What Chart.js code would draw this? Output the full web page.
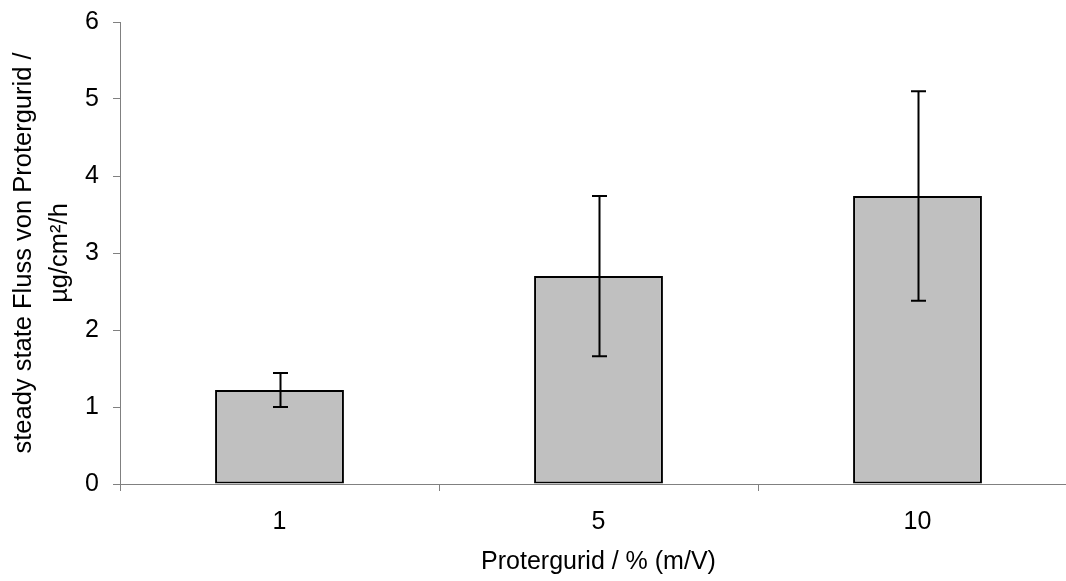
<!DOCTYPE html>
<html>
<head>
<meta charset="utf-8">
<script src="https://cdn.jsdelivr.net/npm/chart.js@4"></script>
<style>
  html, body { margin: 0; padding: 0; background: #fff; overflow: hidden; }
  #wrap { width: 1066px; height: 581px; overflow: hidden; }
  #box { width: 1080px; height: 581px; }
</style>
</head>
<body>
<div id="wrap"><div id="box"><canvas id="fluxChart"></canvas></div></div>
<script>
// Protergurid concentrations (% m/V) and steady state flux (µg/cm²/h)
const concentrations = ['1', '5', '10'];
const fluxMean = [1.22, 2.70, 3.74];
const fluxSd = [0.22, 1.04, 1.36];
const yTicks = [0, 1, 2, 3, 4, 5, 6];

const FONT = 'Liberation Sans, Arial, sans-serif';
const FONT_SIZE = 25;
const AXIS_GREY = '#808080';

// simple error bars with caps, drawn on top of the bars
const errorBars = {
    id: 'errorBars',
    afterDatasetsDraw(chart) {
        const ctx = chart.ctx;
        const y = chart.scales.y;
        const meta = chart.getDatasetMeta(0);
        ctx.save();
        ctx.strokeStyle = '#000';
        ctx.lineWidth = 2;
        meta.data.forEach((bar, i) => {
            const top = y.getPixelForValue(fluxMean[i] + fluxSd[i]);
            const bot = y.getPixelForValue(fluxMean[i] - fluxSd[i]);
            const x = Math.round(bar.x) + 0.5;
            const cap = 7.5;
            ctx.beginPath();
            ctx.moveTo(x, top);
            ctx.lineTo(x, bot);
            ctx.moveTo(x - cap, top);
            ctx.lineTo(x + cap, top);
            ctx.moveTo(x - cap, bot);
            ctx.lineTo(x + cap, bot);
            ctx.stroke();
        });
        ctx.restore();
    }
};

new Chart(document.getElementById('fluxChart'), {
    type: 'bar',
    data: {
        labels: concentrations,
        datasets: [{
            data: fluxMean,
            backgroundColor: '#C0C0C0',
            borderColor: '#000',
            borderWidth: 2,
            borderSkipped: false,
            categoryPercentage: 1,
            barPercentage: 0.404
        }]
    },
    options: {
        responsive: true,
        maintainAspectRatio: false,
        animation: false,
        layout: { padding: { top: 22, right: 3, left: 0, bottom: 0 } },
        plugins: {
            legend: { display: false },
            tooltip: { enabled: false }
        },
        scales: {
            x: {
                grid: {
                    offset: true,
                    drawOnChartArea: false,
                    color: AXIS_GREY,
                    tickLength: 7
                },
                border: { color: AXIS_GREY, width: 1 },
                ticks: {
                    color: '#000',
                    padding: 16,
                    font: { family: FONT, size: FONT_SIZE }
                },
                title: {
                    display: true,
                    text: 'Protergurid / % (m/V)',
                    color: '#000',
                    padding: { top: 0, bottom: 4 },
                    font: { family: FONT, size: FONT_SIZE, lineHeight: 1.2 }
                },
                afterFit(scale) {
                    scale.height = 97;
                    scale.paddingLeft = 0;
                    scale.paddingRight = 0;
                }
            },
            y: {
                min: 0,
                max: 6,
                afterBuildTicks(scale) {
                    scale.ticks = yTicks.map(v => ({ value: v }));
                },
                grid: {
                    drawOnChartArea: false,
                    color: AXIS_GREY,
                    tickLength: 7
                },
                border: { color: AXIS_GREY, width: 1 },
                ticks: {
                    color: '#000',
                    padding: 14,
                    font: { family: FONT, size: FONT_SIZE }
                },
                title: {
                    display: true,
                    text: ['steady state Fluss von Protergurid /', 'µg/cm²/h'],
                    color: '#000',
                    padding: { top: 5, bottom: 0 },
                    font: { family: FONT, size: 25.5, lineHeight: 1.45 }
                },
                afterFit(scale) {
                    scale.width = 120;
                    scale.paddingTop = 0;
                    scale.paddingBottom = 0;
                }
            }
        }
    },
    plugins: [errorBars]
});
</script>
</body>
</html>
